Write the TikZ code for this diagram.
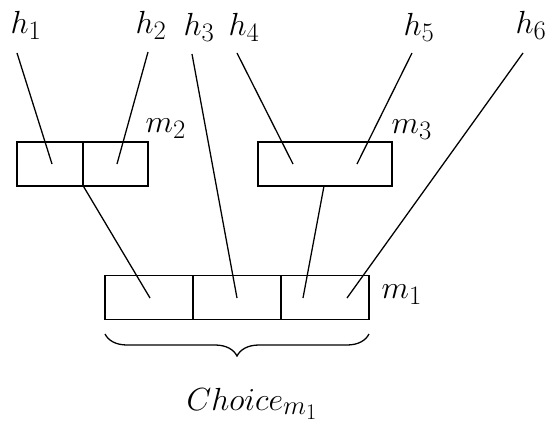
\documentclass[tikz,border=0pt]{standalone}
\usetikzlibrary{decorations.pathreplacing}
\newcommand\myU{0.7775pt}
\begin{document}
\begin{tikzpicture}[x=\myU,y=-\myU,line width=1.0pt,
  lbl/.style={anchor=base west,inner sep=0pt,font=\Huge},
  cell/.style={draw,rectangle,inner sep=0pt,minimum height=44*\myU},
  conn/.style={line width=1.0pt}]
\useasboundingbox (0,0) rectangle (550,426);
% labels
\node[lbl] (h1) at (10,33) {$h_1$};
\node[lbl] (h2) at (135,33) {$h_2$};
\node[lbl] (h3) at (183,35) {$h_3$};
\node[lbl] (h4) at (228,35) {$h_4$};
\node[lbl] (h5) at (403,35) {$h_5$};
\node[lbl] (h6) at (515,33) {$h_6$};
\node[lbl] (lm2) at (145,132) {$m_2$};
\node[lbl] (lm3) at (391,133) {$m_3$};
\node[lbl] (lm1) at (381,298) {$m_1$};
\node[lbl] (ch) at (186,410) {$Choice_{m_1}$};
% boxes
\node[cell,minimum width=66*\myU] (m2a) at (50,164) {};
\node[cell,minimum width=65*\myU] (m2b) at (115.5,164) {};
\node[cell,minimum width=134*\myU] (m3) at (325,164) {};
\node[cell,minimum width=88*\myU] (m1a) at (149,297.5) {};
\node[cell,minimum width=88*\myU] (m1b) at (237,297.5) {};
\node[cell,minimum width=88*\myU] (m1c) at (325,297.5) {};
% connector ends
\coordinate (t1) at (17,53);
\coordinate (t2) at (148,52);
\coordinate (t3) at (192,54);
\coordinate (t4) at (237,53);
\coordinate (t5) at (412,53);
\coordinate (t6) at (523,53);
\coordinate (p1) at (52,164);
\coordinate (p2) at (117,164);
\coordinate (p4) at (293,164);
\coordinate (p5) at (357,164);
\coordinate (q1) at (150,298);
\coordinate (q2) at (237,298);
\coordinate (q3) at (303,298);
\coordinate (q4) at (347,298);
\coordinate (s3) at (324,186);
\coordinate (b1) at (105,334);
\coordinate (b2) at (369,334);
\draw[conn] (t1) -- (p1);
\draw[conn] (t2) -- (p2);
\draw[conn] (t3) -- (q2);
\draw[conn] (t4) -- (p4);
\draw[conn] (t5) -- (p5);
\draw[conn] (t6) -- (q4);
\draw[conn] (m2a.south east) -- (q1);
\draw[conn] (s3) -- (q3);
% brace
\draw[conn,decorate,decoration={brace,mirror,amplitude=22*\myU}] (b1) -- (b2);
\end{tikzpicture}
\end{document}
